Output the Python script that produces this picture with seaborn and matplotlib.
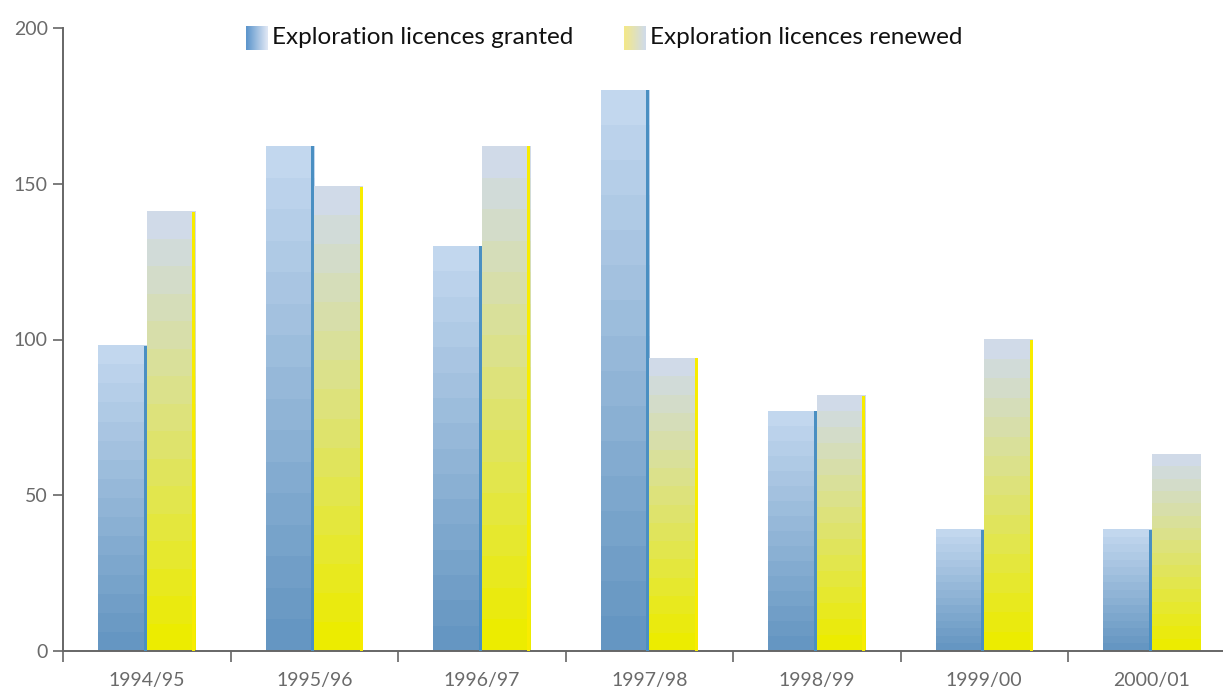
import numpy as np
import pandas as pd
import seaborn as sns
import matplotlib.pyplot as plt
from matplotlib.colors import to_rgb
from matplotlib.patches import Rectangle

years = ["1994/95", "1995/96", "1996/97", "1997/98", "1998/99", "1999/00", "2000/01"]
granted = [98, 162, 130, 180, 77, 39, 39]
renewed = [141, 149, 162, 94, 82, 100, 63]
series = ["Exploration licences granted", "Exploration licences renewed"]

sns.set_style("white")
plt.rcParams['font.family'] = ['Lato', 'DejaVu Sans']

df = pd.DataFrame({
    "year": years * 2,
    "count": granted + renewed,
    "series": [series[0]] * len(years) + [series[1]] * len(years),
})

W, H = 1223, 688
fig = plt.figure(figsize=(W / 100, H / 100), dpi=100)
ax = fig.add_axes([63 / W, 37 / H, 1172.5 / W, 623 / H])

sns.barplot(data=df, x="year", y="count", hue="series", order=years,
            hue_order=series, palette=["#6699c4", "#ecec00"], saturation=1,
            width=0.58, gap=0, errorbar=None, legend=False, ax=ax)


def gradient(c0, c1, n):
    t = np.linspace(0, 1, n)[:, None]
    return ((1 - t) * np.array(to_rgb(c0)) + t * np.array(to_rgb(c1))).reshape(n, 1, 3)


styles = {
    "blue": (gradient("#6596c2", "#c2d7ee", 16), "#4a8fc2"),
    "yellow": (gradient("#ecec00", "#d0dae8", 16), "#f8ec00"),
}
strip = 3 / 167.5

for p in list(ax.patches):
    x0, w, h = p.get_x(), p.get_width(), p.get_height()
    cx = x0 + w / 2
    key = "blue" if cx < round(cx) else "yellow"
    img, edge = styles[key]
    ax.imshow(img, extent=(x0, x0 + w, 0, h), origin="lower", aspect="auto",
              interpolation="nearest", zorder=2)
    if not (key == "yellow" and x0 > 5.5):
        ax.add_patch(Rectangle((x0 + w - strip, 0), strip, h, color=edge, lw=0, zorder=3))
    p.set_visible(False)

ax.set_xlim(-0.5, 6.5)
ax.set_ylim(0, 200)
ax.set_yticks([0, 50, 100, 150, 200])
ax.set_xticks(range(len(years)))
ax.set_xticklabels(years)
ax.set_xticks(np.arange(-0.5, 7, 1), minor=True)
ax.set_xlabel("")
ax.set_ylabel("")

for s in ["top", "right"]:
    ax.spines[s].set_visible(False)
for s in ["left", "bottom"]:
    ax.spines[s].set_color("#666666")
    ax.spines[s].set_linewidth(1.4)

ax.tick_params(axis="y", length=7, width=1.2, color="#666666", labelsize=14,
               labelcolor="#6a6a6a", pad=4, left=True)
ax.tick_params(axis="x", which="major", length=0, labelsize=14,
               labelcolor="#6a6a6a", pad=15)
ax.tick_params(axis="x", which="minor", length=8, width=1.2, color="#666666",
               bottom=True)

# legend with gradient swatches
legend_items = [
    (246, series[0], gradient("#5e96cc", "#dde6f4", 12)),
    (624, series[1], gradient("#f3e88a", "#d0dbe8", 12)),
]
for x, label, img in legend_items:
    sw = fig.add_axes([x / W, (H - 50) / H, 22 / W, 24 / H])
    sw.imshow(img.reshape(1, -1, 3), aspect="auto", interpolation="bilinear")
    sw.axis("off")
    fig.text((x + 26) / W, 1 - 38 / H, label, va="center", ha="left",
             fontsize=17.5, color="#111111")

fig.savefig("out.png", dpi=100)
